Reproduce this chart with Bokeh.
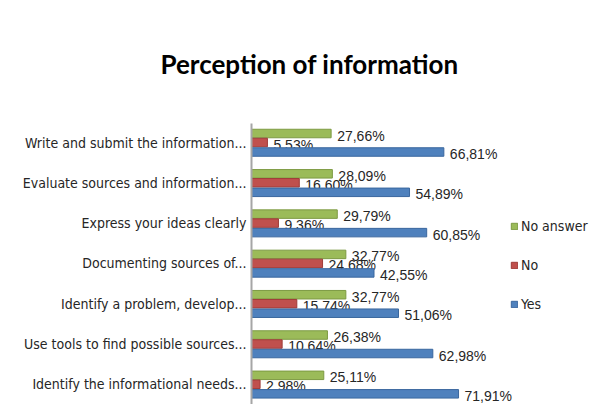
from bokeh.plotting import figure
from bokeh.models import Range1d, ColumnDataSource, Legend, LegendItem, FixedTicker
from bokeh.transform import dodge
from bokeh.core.properties import value
from bokeh.embed import file_html
from bokeh.resources import INLINE

# ---- data (top-to-bottom as displayed) ----
categories = [
    "Write and submit the information...",
    "Evaluate sources and information...",
    "Express your ideas clearly",
    "Documenting sources of...",
    "Identify a problem, develop...",
    "Use tools to find possible sources...",
    "Identify the informational needs...",
]
yes = [66.81, 54.89, 60.85, 42.55, 51.06, 62.98, 71.91]
no = [5.53, 16.60, 9.36, 24.68, 15.74, 10.64, 2.98]
no_answer = [27.66, 28.09, 29.79, 32.77, 32.77, 26.38, 25.11]
series_names = ["No answer", "No", "Yes"]
colors = ["#9BBB59", "#C0504D", "#4F81BD"]
edge_colors = ["#7D9A43", "#9E3B38", "#3A679E"]
title_text = "Perception of information"

NARROW = "DejaVu Sans Condensed"

def fmt(v):
    return ("%.2f" % v).replace(".", ",") + "%"

n = len(categories)
pos = [n - 1 - i for i in range(n)]  # top category highest

src = ColumnDataSource(dict(
    pos=pos,
    yes=yes, no=no, na=no_answer,
    yes_l=[fmt(v) for v in yes],
    no_l=[fmt(v) for v in no],
    na_l=[fmt(v) for v in no_answer],
))

p = figure(
    width=589, height=404,
    y_range=Range1d(-0.501, n - 1 + 0.4715),
    x_range=Range1d(0, 117.4),
    output_backend="svg", toolbar_location=None,
    min_border_left=251, min_border_right=0,
    min_border_top=123, min_border_bottom=0,
    outline_line_color=None,
)
p.title.text = title_text
p.title.align = "left"
p.title.offset = -91
p.title.vertical_align = "bottom"
p.title.standoff = 88
p.title.text_font = "Lato"
p.title.text_font_style = "bold"
p.title.text_font_size = "26px"
p.title.text_color = "#000000"

p.xaxis.visible = False
p.xgrid.visible = False
p.ygrid.visible = False
p.yaxis.ticker = FixedTicker(ticks=pos)
p.yaxis.major_label_overrides = {pp: c for pp, c in zip(pos, categories)}
p.yaxis.major_tick_line_color = None
p.yaxis.minor_tick_line_color = None
p.yaxis.major_tick_out = 0
p.yaxis.major_tick_in = 0
p.yaxis.axis_line_color = "#a6a6a6"
p.yaxis.axis_line_width = 2
p.yaxis.major_label_standoff = 5
p.yaxis.major_label_text_font = NARROW
p.yaxis.major_label_text_font_size = "14px"
p.yaxis.major_label_text_color = "#262626"

offsets = [0.223, 0.0, -0.236]
fields = ["na", "no", "yes"]
label_fields = ["na_l", "no_l", "yes_l"]
items = []
for f, lf, off, c, ec, name in zip(fields, label_fields, offsets, colors, edge_colors, series_names):
    r = p.hbar(y=dodge("pos", off), left=0, right=f, height=0.211,
               source=src, fill_color=c, line_color=ec, line_width=1)
    p.text(x=f, y=dodge("pos", off), text=lf, source=src,
           x_offset=6, y_offset=2, text_baseline="middle", text_align="left",
           text_font=value("Liberation Sans"), text_font_size="14px", text_color="#262626")
    items.append(LegendItem(label=name, renderers=[r]))

legend = Legend(items=items, location=(259, 90), glyph_width=8, glyph_height=8,
                label_standoff=3, label_height=20, spacing=19, padding=0, margin=0,
                border_line_color=None, background_fill_alpha=0,
                label_text_font=NARROW, label_text_font_size="14px",
                label_text_color="#262626")
p.add_layout(legend, "center")

open("out.html", "w").write(file_html(p, INLINE))
